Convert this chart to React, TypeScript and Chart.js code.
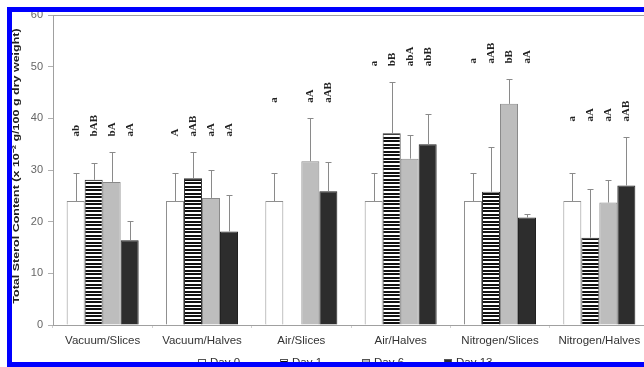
import React, { useEffect, useRef } from "react";
import { Chart, registerables } from "chart.js";

Chart.register(...registerables);

// ---------- data ----------
const categories = [
  "Vacuum/Slices",
  "Vacuum/Halves",
  "Air/Slices",
  "Air/Halves",
  "Nitrogen/Slices",
  "Nitrogen/Halves",
];
const seriesNames = ["Day 0", "Day 1", "Day 6", "Day 13"];

const day0 = [24.0, 24.0, 24.0, 24.0, 24.0, 24.0];
const day1 = [28.1, 28.4, null, 37.1, 25.8, 16.9];
const day6 = [27.7, 24.6, 31.7, 32.2, 42.8, 23.7];
const day13 = [16.4, 18.1, 25.9, 35.0, 20.8, 27.0];

// upper ends of the error bars
const day0ErrTop = [29.5, 29.5, 29.5, 29.5, 29.5, 29.5];
const day1ErrTop = [31.3, 33.5, null, 47.1, 34.5, 26.4];
const day6ErrTop = [33.5, 30.0, 40.0, 36.8, 47.6, 28.1];
const day13ErrTop = [20.1, 25.1, 31.5, 40.8, 21.4, 36.4];

// significance letters
const day0Letters = ["ab", "A", "a", "a", "a", "a"];
const day1Letters = ["bAB", "aAB", "", "bB", "aAB", "aA"];
const day6Letters = ["bA", "aA", "aA", "abA", "bB", "aA"];
const day13Letters = ["aA", "aA", "aAB", "abB", "aA", "aAB"];

const yMin = 0;
const yMax = 60;
const yStep = 10;
const yTitle = "Total Sterol Content (x 10\u207B\u00B2 g/100 g dry weight)";

const seriesValues = [day0, day1, day6, day13];
const seriesErrTops = [day0ErrTop, day1ErrTop, day6ErrTop, day13ErrTop];
const seriesLetters = [day0Letters, day1Letters, day6Letters, day13Letters];

function makeStripePattern(): CanvasPattern | string {
  const tile = document.createElement("canvas");
  tile.width = 8;
  tile.height = 7;
  const t = tile.getContext("2d");
  if (!t) return "#666";
  t.fillStyle = "#ffffff";
  t.fillRect(0, 0, 8, 7);
  t.fillStyle = "#111111";
  t.fillRect(0, 0, 8, 2);
  t.fillRect(0, 4, 8, 2);
  const ctx = document.createElement("canvas").getContext("2d");
  return ctx ? (ctx.createPattern(tile, "repeat") as CanvasPattern) : "#666";
}

export default function App() {
  const ref = useRef<HTMLCanvasElement | null>(null);

  useEffect(() => {
    const canvas = ref.current;
    if (!canvas) return;
    const stripe = makeStripePattern();

    const fills = ["#ffffff", stripe, "#bdbdbd", "#2d2d2d"];
    const borders = ["#8f8f8f", "#333333", "#8a8a8a", "#222222"];

    const annotate = {
      id: "annotate",
      beforeDatasetsDraw(chart: any) {
        const { ctx, chartArea: a } = chart;
        ctx.save();
        ctx.strokeStyle = "#a0a0a0";
        ctx.lineWidth = 1;
        ctx.strokeRect(Math.round(a.left) + 0.5, Math.round(a.top) + 0.5, a.right - a.left, a.bottom - a.top);
        ctx.restore();
      },
      afterDatasetsDraw(chart: any) {
        const { ctx, chartArea: a } = chart;
        const ys = chart.scales.y;
        ctx.save();
        // error bars
        ctx.strokeStyle = "#8a8a8a";
        ctx.lineWidth = 1;
        seriesValues.forEach((vals, di) => {
          const meta = chart.getDatasetMeta(di);
          meta.data.forEach((bar: any, i: number) => {
            const top = seriesErrTops[di][i];
            if (top == null || vals[i] == null) return;
            const x = Math.round(bar.x) + 0.5;
            const y1 = Math.round(ys.getPixelForValue(top)) + 0.5;
            ctx.beginPath();
            ctx.moveTo(x, bar.y);
            ctx.lineTo(x, y1);
            ctx.moveTo(x - 3, y1);
            ctx.lineTo(x + 3, y1);
            ctx.stroke();
          });
        });
        // letters
        ctx.fillStyle = "#222";
        ctx.font = "bold 11px 'Liberation Serif', 'Times New Roman', serif";
        ctx.textAlign = "left";
        ctx.textBaseline = "middle";
        categories.forEach((_, i) => {
          const tops = seriesErrTops.map((e) => (e[i] == null ? 0 : (e[i] as number)));
          const level = Math.max(...tops) + 3;
          const baseY = ys.getPixelForValue(level);
          seriesLetters.forEach((letters, di) => {
            const txt = letters[i];
            if (!txt) return;
            const bar: any = chart.getDatasetMeta(di).data[i];
            ctx.save();
            ctx.translate(bar.x, baseY);
            ctx.rotate(-Math.PI / 2);
            ctx.fillText(txt, 0, 0);
            ctx.restore();
          });
        });
        // y-axis title (glyphs slightly compressed across the text direction)
        ctx.save();
        ctx.fillStyle = "#222";
        ctx.font = "bold 12.5px 'Liberation Sans', Arial, sans-serif";
        ctx.textAlign = "center";
        ctx.textBaseline = "middle";
        ctx.translate(16.5, (a.top + a.bottom) / 2 - 4);
        ctx.rotate(-Math.PI / 2);
        ctx.scale(1, 0.74);
        ctx.fillText(yTitle, 0, 0);
        ctx.restore();
        // legend
        const ly = a.bottom + 38;
        let lx = a.left + 145;
        ctx.font = "11.5px 'Liberation Sans', Arial, sans-serif";
        ctx.textAlign = "left";
        ctx.textBaseline = "middle";
        seriesNames.forEach((name, di) => {
          ctx.fillStyle = fills[di] as any;
          ctx.fillRect(lx, ly - 4, 8, 8);
          ctx.strokeStyle = "#555";
          ctx.strokeRect(lx + 0.5, ly - 3.5, 7, 7);
          ctx.fillStyle = "#333";
          ctx.fillText(name, lx + 12, ly);
          lx += 82;
        });
        ctx.restore();
      },
    };

    const chart = new Chart(canvas, {
      type: "bar",
      data: {
        labels: categories,
        datasets: seriesNames.map((name, di) => ({
          label: name,
          data: seriesValues[di] as any,
          backgroundColor: fills[di] as any,
          borderColor: borders[di],
          borderWidth: 1,
          barPercentage: 1,
          categoryPercentage: 0.725,
        })),
      },
      options: {
        responsive: false,
        animation: false,
        devicePixelRatio: 1,
        layout: { padding: { top: 15, right: 11, left: 0, bottom: 0 } },
        plugins: {
          legend: { display: false },
          tooltip: { enabled: false },
        },
        scales: {
          x: {
            type: "category",
            offset: true,
            grid: {
              display: true,
              drawOnChartArea: false,
              drawTicks: true,
              tickLength: 3,
              color: "#d0d0d0",
            },
            border: { display: true, color: "#9a9a9a" },
            ticks: {
              color: "#333",
              font: { family: "'Liberation Sans', Arial, sans-serif", size: 11.5 },
              padding: 6,
              maxRotation: 0,
              autoSkip: false,
            },
            afterFit: (scale: any) => {
              scale.height = 42;
            },
          },
          y: {
            min: yMin,
            max: yMax,
            ticks: {
              stepSize: yStep,
              color: "#666",
              font: { family: "'Liberation Sans', Arial, sans-serif", size: 11 },
              padding: 5,
            },
            grid: {
              display: true,
              drawOnChartArea: false,
              drawTicks: true,
              tickLength: 5,
              color: "#b0b0b0",
            },
            border: { display: true, color: "#9a9a9a" },
            title: { display: false },
            afterFit: (scale: any) => {
              scale.width = 53;
            },
          },
        },
      },
      plugins: [annotate],
    });

    return () => chart.destroy();
  }, []);

  return (
    <div
      style={{
        position: "fixed",
        left: 0,
        top: 0,
        width: 644,
        height: 367,
        overflow: "hidden",
        background: "#ffffff",
      }}
    >
      <canvas
        ref={ref}
        width={660}
        height={367}
        style={{ position: "absolute", left: 0, top: 0, width: 660, height: 367 }}
      />
      <div
        style={{
          position: "absolute",
          left: 7,
          top: 7,
          width: 700,
          height: 360,
          border: "5px solid #0000ff",
          boxSizing: "border-box",
          pointerEvents: "none",
        }}
      />
    </div>
  );
}
